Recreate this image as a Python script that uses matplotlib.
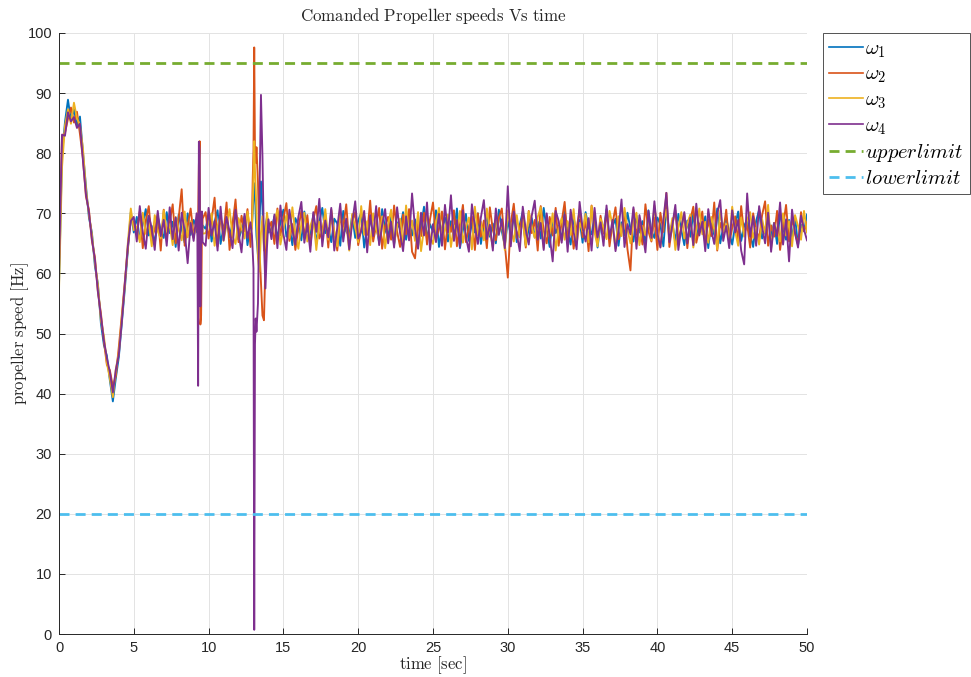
import numpy as np
import matplotlib
matplotlib.use("Agg")
import matplotlib.pyplot as plt

plt.rcParams['font.family'] = ['Liberation Sans', 'DejaVu Sans']
plt.rcParams['mathtext.fontset'] = 'cm'

# ---------------- time base (s) ----------------
t_start = np.round(np.arange(0, 9.21, 0.2), 2)                 # 0 .. 9.2
t_event1 = [9.25, 9.3, 9.35, 9.4, 9.45, 9.5, 9.55, 9.6]
t_mid = np.round(np.arange(9.8, 12.81, 0.2), 2)                # 9.8 .. 12.8
t_event2 = [12.9, 12.95, 13.0, 13.05, 13.1, 13.15, 13.2, 13.3, 13.4, 13.5,
            13.6, 13.7, 13.8, 13.9, 14.0]
t_steady = np.round(14.2 + 0.2 * np.arange(180), 2)            # 14.2 .. 50
time = np.concatenate([t_start, t_event1, t_mid, t_event2, t_steady])

# ---------------- commanded propeller speeds (Hz) ----------------
w1 = [
    # 0 .. 5.0 s
    58.0, 79.5, 85.2, 88.9, 85.4, 87.3, 84.6, 86.1, 80.2, 74.6, 69.3, 66.8, 61.2,
    58.3, 51.7, 48.1, 46.3, 42.2, 38.7, 42.6, 46.1, 51.8, 57.4, 63.9, 70.2, 66.8,
    # 5.2 .. 9.2 s
    69.4, 65.6, 68.2, 70.7, 66.3, 67.9, 64.8, 69.5, 67.1, 65.9, 70.2, 66.7, 68.6,
    64.4, 69.8, 67.3, 65.1, 70.0, 66.4, 68.9, 67.6,
    # event 1
    66.8, 68.9, 70.4, 67.2, 65.1, 69.3, 66.5, 68.0,
    # 9.8 .. 12.8 s
    67.4, 69.8, 65.3, 68.6, 70.5, 64.9, 67.8, 69.1, 66.0, 68.4, 70.9, 65.6, 67.2,
    69.5, 64.7, 68.3,
    # event 2
    68.1, 70.2, 72.5, 75.0, 73.8, 69.5, 66.2, 63.0, 68.4, 75.3, 71.0, 64.6, 67.9,
    69.3, 66.8,
    # 14.2 .. 50 s
    67.2, 69.5, 65.8, 68.4, 70.6, 66.1, 67.9, 64.7, 69.2, 68.0, 65.5, 70.3, 67.1, 66.4, 69.8, 64.9, 68.6, 70.9, 66.7, 67.5,
    65.2, 69.1, 68.3, 64.6, 70.4, 67.0, 66.2, 69.7, 65.9, 68.8, 70.1, 64.3, 67.7, 69.4, 66.5, 68.1, 65.1, 70.7, 67.3, 66.0,
    69.6, 64.8, 68.5, 67.4, 70.2, 65.6, 68.9, 66.3, 69.0, 64.5, 67.8, 71.1, 65.7, 68.2, 66.9, 70.5, 64.4, 67.6, 69.3, 65.3,
    68.7, 66.6, 70.8, 64.2, 67.2, 69.9, 65.4, 68.4, 66.8, 70.0, 64.9, 67.9, 69.5, 66.1, 68.3, 65.0, 70.6, 67.0, 64.6, 68.8,
    66.4, 69.8, 65.2, 68.1, 70.3, 64.7, 67.5, 69.2, 66.0, 68.6, 65.8, 70.9, 67.3, 64.4, 69.0, 66.7, 68.0, 65.5, 70.4, 67.1,
    64.8, 69.4, 66.2, 68.9, 65.1, 70.2, 67.6, 66.5, 69.7, 64.3, 68.2, 66.9, 70.7, 65.6, 67.8, 69.1, 64.6, 68.5, 66.3, 70.1,
    67.4, 65.3, 69.6, 66.8, 68.7, 64.9, 70.5, 67.0, 65.9, 69.3, 68.1, 64.5, 71.0, 66.6, 68.4, 65.2, 69.9, 67.2, 64.7, 68.8,
    66.1, 70.0, 65.7, 68.3, 67.1, 69.5, 64.2, 68.6, 66.4, 70.8, 65.0, 67.7, 69.2, 66.9, 64.8, 68.0, 70.3, 65.4, 67.9, 69.0,
    66.5, 64.4, 68.7, 70.6, 65.8, 67.3, 69.7, 66.2, 68.4, 64.9, 70.1, 67.5, 65.6, 68.9, 66.0, 69.4, 64.6, 68.1, 67.0, 69.8,
]

w2 = [
    62.0, 82.8, 83.4, 85.7, 87.6, 85.1, 86.9, 83.2, 79.1, 72.8, 70.6, 65.4, 62.7,
    56.9, 53.4, 48.7, 44.8, 43.9, 41.2, 42.9, 47.8, 53.1, 58.6, 64.1, 69.1, 68.5,
    66.9, 70.3, 64.2, 68.8, 71.2, 65.7, 67.4, 69.9, 63.8, 70.6, 66.1, 68.5, 71.5,
    65.0, 69.2, 74.0, 64.6, 67.9, 70.8, 66.3, 68.1,
    67.5, 68.2, 78.0, 82.0, 51.5, 53.0, 65.8, 69.1,
    70.2, 65.8, 68.9, 72.6, 64.5, 69.3, 66.7, 71.8, 63.9, 68.0, 72.3, 65.2, 69.6,
    67.0, 70.7, 64.4,
    69.4, 75.8, 80.5, 97.6, 80.2, 78.4, 81.0, 75.2, 64.0, 58.5, 53.0, 52.2, 61.5,
    68.9, 67.3,
    68.6, 64.9, 70.8, 66.3, 69.1, 71.7, 65.4, 68.2, 63.9, 67.5, 70.4, 66.0, 69.7, 64.6, 68.9, 71.2, 65.8, 67.1, 69.9, 64.3,
    70.6, 66.8, 63.8, 69.3, 67.7, 71.5, 65.1, 68.5, 70.2, 64.7, 67.3, 69.6, 66.4, 72.1, 65.3, 68.0, 70.9, 64.1, 67.9, 69.4,
    65.6, 71.3, 67.0, 64.4, 69.8, 66.5, 70.7, 63.6, 62.5, 68.3, 66.2, 70.1, 64.8, 69.0, 71.8, 65.7, 67.4, 70.3, 64.0, 68.7,
    66.9, 70.5, 64.5, 68.1, 71.4, 65.2, 67.8, 69.5, 63.9, 70.0, 66.1, 68.8, 64.2, 71.0, 67.2, 65.5, 69.2, 70.8, 64.9, 59.3,
    68.4, 71.6, 65.9, 67.6, 69.7, 64.3, 70.4, 66.7, 68.9, 63.8, 71.2, 67.1, 65.0, 69.4, 66.3, 70.9, 64.6, 68.6, 71.9, 65.4,
    69.0, 64.1, 67.5, 70.6, 66.0, 68.8, 63.7, 71.3, 67.9, 65.2, 69.6, 66.6, 70.2, 64.5, 68.3, 71.0, 65.7, 67.3, 69.9, 64.0,
    60.5, 70.7, 66.4, 68.6, 64.8, 71.5, 67.0, 65.3, 69.3, 63.9, 70.1, 66.9, 73.4, 64.4, 68.1, 70.5, 65.6, 67.7, 69.8, 64.2,
    68.9, 71.1, 65.1, 67.4, 70.3, 64.7, 69.0, 66.2, 71.8, 63.8, 68.4, 66.8, 70.6, 64.9, 67.6, 69.5, 65.4, 71.2, 66.5, 68.2,
    64.3, 70.0, 67.2, 65.8, 69.7, 72.0, 64.6, 68.0, 66.1, 70.4, 63.9, 67.8, 71.4, 65.3, 69.1, 66.7, 64.8, 70.2, 67.0, 68.5,
]

w3 = [
    57.2, 77.6, 84.6, 87.3, 84.9, 88.4, 85.8, 84.7, 80.8, 74.1, 69.8, 66.5, 61.8,
    58.1, 52.2, 49.6, 45.1, 42.5, 39.4, 44.1, 46.8, 52.6, 57.9, 65.0, 70.8, 67.2,
    67.8, 65.2, 70.1, 66.6, 68.4, 64.5, 69.7, 67.0, 65.8, 70.5, 66.9, 68.2, 64.7,
    69.4, 67.3, 65.5, 70.3, 66.0, 68.7, 65.9, 69.1,
    68.4, 66.3, 71.2, 69.0, 64.8, 67.7, 70.1, 66.6,
    66.7, 68.5, 70.0, 64.6, 67.9, 69.6, 65.4, 68.1, 70.7, 66.2, 64.9, 69.2, 67.5,
    65.8, 70.3, 66.9,
    67.5, 71.3, 76.5, 82.0, 77.2, 74.0, 70.1, 62.5, 60.3, 66.8, 69.5, 63.8, 66.0,
    70.1, 68.2,
    66.2, 68.9, 70.5, 64.8, 67.4, 69.7, 65.9, 71.0, 66.6, 64.1, 68.3, 70.1, 65.3, 67.9, 69.4, 63.9, 68.6, 66.0, 70.7, 65.6,
    69.2, 67.1, 64.5, 70.3, 66.8, 68.4, 63.8, 69.9, 67.6, 65.2, 71.2, 66.4, 68.7, 64.7, 70.0, 67.3, 65.8, 69.5, 64.2, 68.1,
    70.6, 65.0, 67.8, 69.1, 64.6, 71.3, 66.5, 68.8, 65.4, 70.2, 63.7, 67.5, 69.6, 66.1, 64.9, 68.5, 70.9, 65.7, 67.2, 69.8,
    64.4, 68.0, 66.9, 70.4, 65.1, 67.7, 69.3, 64.0, 71.1, 66.3, 68.6, 65.5, 70.8, 67.0, 64.3, 69.0, 66.7, 68.2, 63.9, 70.5,
    67.4, 65.3, 69.7, 66.0, 68.9, 64.6, 70.3, 67.8, 65.9, 69.4, 71.0, 64.2, 68.1, 66.6, 70.0, 63.8, 67.5, 69.2, 65.6, 68.7,
    66.4, 70.7, 64.9, 68.4, 67.0, 69.9, 65.2, 71.2, 66.8, 64.5, 69.1, 67.6, 65.7, 70.4, 68.0, 64.1, 69.5, 66.2, 70.9, 67.3,
    65.0, 68.8, 70.1, 64.7, 67.9, 66.3, 69.6, 65.5, 71.3, 67.1, 64.4, 68.5, 70.6, 66.0, 69.2, 63.9, 67.7, 70.2, 65.8, 68.3,
    69.8, 64.3, 67.2, 70.8, 66.5, 68.6, 65.1, 69.4, 67.4, 64.0, 70.5, 66.9, 68.2, 65.4, 71.1, 67.0, 64.6, 69.3, 66.1, 68.9,
    70.2, 65.9, 67.6, 64.8, 69.0, 66.7, 71.4, 64.2, 68.4, 67.1, 65.3, 70.0, 66.3, 68.7, 64.5, 69.7, 67.9, 65.6, 70.4, 66.8,
]

w4 = [
    60.5, 83.1, 82.9, 86.8, 85.3, 86.0, 84.2, 84.9, 78.8, 73.2, 70.2, 65.7, 62.3,
    57.0, 52.9, 48.9, 45.9, 43.6, 40.2, 44.0, 46.5, 52.0, 58.3, 64.6, 68.7, 69.4,
    65.3, 71.2, 66.8, 64.1, 69.6, 67.5, 63.9, 70.4, 66.2, 68.9, 64.6, 71.0, 65.7,
    69.3, 63.8, 70.1, 67.0, 61.7, 68.4, 65.4, 70.0,
    66.1, 41.3, 81.9, 80.5, 54.5, 66.0, 70.3, 65.2,
    64.6, 70.9, 66.3, 68.7, 63.8, 71.1, 65.5, 69.4, 67.0, 64.2, 70.6, 66.8, 63.5,
    69.9, 65.9, 68.5,
    66.3, 63.5, 60.8, 0.7, 48.2, 52.5, 50.3, 55.0, 72.0, 89.7, 79.5, 65.0, 57.5,
    64.2, 69.0,
    65.7, 69.8, 64.2, 71.3, 66.5, 63.9, 70.6, 67.2, 64.8, 69.4, 71.9, 65.1, 68.3, 63.6, 70.2, 66.9, 72.4, 64.5, 68.8, 66.0,
    70.9, 63.8, 67.6, 71.6, 65.3, 69.1, 64.0, 68.5, 72.0, 65.8, 67.0, 70.4, 63.5, 69.7, 66.2, 71.2, 64.7, 68.0, 70.7, 65.0,
    68.6, 64.3, 71.0, 66.7, 63.7, 69.5, 65.5, 73.3, 67.4, 64.1, 70.1, 66.3, 71.8, 63.9, 68.2, 65.2, 69.9, 64.6, 71.4, 66.8,
    73.0, 65.4, 68.9, 64.4, 70.5, 66.1, 63.6, 71.5, 67.8, 64.9, 69.3, 72.2, 65.7, 68.1, 63.8, 70.8, 66.4, 69.0, 64.2, 74.5,
    64.5, 70.3, 66.6, 63.7, 71.1, 67.3, 64.8, 69.6, 72.1, 65.6, 68.4, 63.9, 70.0, 66.2, 62.0, 70.4, 68.7, 65.1, 69.8, 63.6,
    70.6, 66.9, 64.0, 71.9, 67.5, 65.3, 69.2, 63.8, 70.9, 66.0, 68.5, 64.6, 71.3, 65.8, 68.9, 63.7, 67.1, 72.3, 64.4, 68.2,
    66.5, 71.0, 64.1, 69.7, 67.0, 63.5, 70.4, 65.9, 72.0, 66.6, 64.3, 69.0, 73.4, 65.2, 68.0, 71.4, 63.9, 67.6, 70.2, 65.0,
    69.3, 64.7, 71.6, 66.3, 68.6, 63.7, 70.7, 67.2, 64.9, 69.9, 72.2, 65.4, 67.9, 64.2, 70.5, 66.8, 68.9, 63.8, 61.5, 73.3,
    66.1, 69.5, 64.6, 71.2, 67.7, 65.0, 70.1, 63.6, 68.4, 66.2, 71.8, 64.8, 69.0, 62.0, 70.6, 66.7, 64.3, 69.6, 67.3, 65.5,
]

upper_limit = 95
lower_limit = 20

series_labels = [r'$\omega_1$', r'$\omega_2$', r'$\omega_3$', r'$\omega_4$']
limit_labels = [r'$upperlimit$', r'$lowerlimit$']
x_ticks = list(range(0, 51, 5))
y_ticks = list(range(0, 101, 10))

for name, s in [('w1', w1), ('w2', w2), ('w3', w3), ('w4', w4)]:
    assert len(s) == len(time), (name, len(s), len(time))

# ---------------- figure ----------------
W, H = 971, 677
fig = plt.figure(figsize=(W / 100, H / 100), dpi=100)
ax_w, ax_h = 807 - 59, 634 - 33
ax = fig.add_axes([59 / W, 1 - 634 / H, ax_w / W, ax_h / H])

colors = ['#0072BD', '#D95319', '#EDB120', '#7E2F8E']
for s, c, lab in zip([w1, w2, w3, w4], colors, series_labels):
    ax.plot(time, s, color=c, lw=1.35, label=lab)

t_lim = np.array([time[0], time[-1]])
ax.plot(t_lim, [upper_limit] * 2, color='#77AC30', lw=2.0, ls=(0, (3.6, 2.2)),
        label=limit_labels[0])
ax.plot(t_lim, [lower_limit] * 2, color='#4DBEEE', lw=2.0, ls=(0, (3.6, 2.2)),
        label=limit_labels[1])

ax.set_xlim(0, 50)
ax.set_ylim(0, 100)
ax.set_xticks(x_ticks)
ax.set_yticks(y_ticks)
ax.grid(True, color='#e3e3e3', lw=0.7)
ax.set_axisbelow(True)
for sp in ['top', 'right']:
    ax.spines[sp].set_visible(False)
for sp in ['left', 'bottom']:
    ax.spines[sp].set_color('#262626')
    ax.spines[sp].set_linewidth(0.7)
ax.tick_params(direction='in', length=4, width=0.7, colors='#262626',
               labelsize=10.5, pad=5)

ax.set_title(r'$\mathrm{Comanded\ Propeller\ speeds\ Vs\ time}$', fontsize=12.2,
             pad=9, color='#262626')
ax.set_xlabel(r'$\mathrm{time\ [sec]}$', fontsize=12, color='#262626')
ax.set_ylabel(r'$\mathrm{propeller\ speed\ [Hz]}$', fontsize=12,
              color='#262626')
ax.xaxis.set_label_coords(0.5, -(665 - 634) / ax_h, transform=ax.transAxes)
ax.xaxis.label.set_va('center')
ax.yaxis.set_label_coords(-(59 - 20) / ax_w, 0.5, transform=ax.transAxes)
ax.yaxis.label.set_va('center')

leg = ax.legend(loc='upper left', bbox_to_anchor=(1.021, 1.0), fontsize=14.8,
                frameon=True, fancybox=False, edgecolor='#262626',
                handlelength=1.65, handletextpad=0.12, borderpad=0.3,
                borderaxespad=0.0, labelspacing=0.25)
leg.get_frame().set_linewidth(0.7)
for h in leg.get_lines()[:4]:
    h.set_linewidth(1.2)

fig.savefig('out.png', dpi=100)
